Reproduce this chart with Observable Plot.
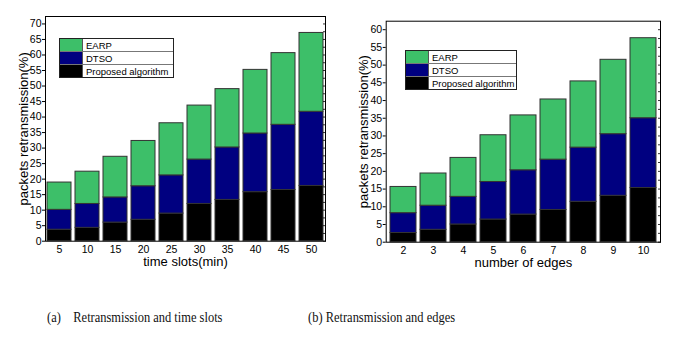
<!DOCTYPE html>
<html><head><meta charset="utf-8">
<script src="https://cdn.jsdelivr.net/npm/d3@7"></script>
<script src="https://cdn.jsdelivr.net/npm/@observablehq/plot@0.6"></script>
<style>
body{margin:0;background:#fff;}
#wrap{position:relative;width:699px;height:341px;font-family:"Liberation Sans",Arial,sans-serif;}
.panel{position:absolute;top:0;}
.legend{position:absolute;border:1px solid #222;background:#fff;font-size:9.5px;color:#000;}
.legend .row{display:flex;align-items:center;height:12px;border-top:1px solid #777;}
.legend .row:first-child{border-top:none;}
.legend .sw{width:22px;height:100%;margin-right:3px;border-right:1px solid #555;flex:none;}
.cap{position:absolute;font-family:"Liberation Serif",serif;font-size:14px;color:#111;white-space:pre;transform:scaleX(0.89);transform-origin:left center;}
</style></head>
<body><div id="wrap"></div>
<script>
// Panel (a): time slots
const slots = [5,10,15,20,25,30,35,40,45,50];
const proposedA = [3.7,4.3,6.0,6.9,8.9,12.0,13.3,15.8,16.5,17.8];
const dtsoA = [6.4,7.7,8.1,10.8,12.3,14.3,16.9,18.9,21.0,23.9];
const earpA = [8.8,10.4,13.1,14.6,16.8,17.4,18.8,20.5,23.1,25.4];
// Panel (b): edges
const edges = [2,3,4,5,6,7,8,9,10];
const proposedB = [2.6,3.5,5.0,6.4,7.8,9.1,11.4,13.1,15.3];
const dtsoB = [5.6,6.8,7.8,10.6,12.5,14.2,15.3,17.4,19.7];
const earpB = [7.4,9.1,11.0,13.2,15.5,17.0,18.7,21.0,22.6];
const series = ["Proposed algorithm","DTSO","EARP"];
const colors = ["#000000","#000080","#3dbf69"];
const yTicksA = d3.range(0,71,5);
const yTicksB = d3.range(0,61,5);

function rows(cats, arrs){
  const out=[];
  cats.forEach((c,i)=>arrs.forEach((a,j)=>out.push({cat:String(c),series:series[j],value:a[i]})));
  return out;
}

function panel(cats, arrs, opts){
  const data = rows(cats, arrs);
  return Plot.plot({
    width: opts.width, height: 290,
    marginLeft: opts.ml, marginRight: opts.mr, marginTop: opts.mt, marginBottom: 290-opts.bottom,
    style:{fontFamily:"Liberation Sans, Arial, sans-serif", fontSize:"10.5px", color:"#000", background:"transparent"},
    x:{domain:cats.map(String), paddingInner:0.15, paddingOuter:0, label:null},
    y:{domain:[0,opts.ymax], label:null},
    color:{domain:series, range:colors},
    marks:[
      Plot.barY(data, Plot.stackY({x:"cat", y:"value", fill:"series", order:series, stroke:"#333", strokeWidth:1})),
      Plot.frame({stroke:"#000", strokeWidth:1}),
      Plot.axisY({ticks:opts.yticks, tickSize:3, tickPadding:1, label:null}),
      Plot.axisY({anchor:"right", ticks:d3.range(0,opts.ymax,2.5), tickSize:-3, tickFormat:()=>"", label:null, strokeOpacity:0.8}),
      Plot.axisX({tickSize:0, tickPadding:4, label:null}),
      Plot.text([opts.xlabel], {frameAnchor:"bottom", dy:25, fontSize:13, text:d=>d}),
      Plot.text([opts.ylabel], {frameAnchor:"left", dx:-22, rotate:-90, textAnchor:"middle", fontSize:13, text:d=>d})
    ]
  });
}

const wrap = document.getElementById("wrap");
function place(el, left){ const d=document.createElement("div"); d.className="panel"; d.style.left=left+"px"; d.appendChild(el); wrap.appendChild(d); }

place(panel(slots,[proposedA,dtsoA,earpA],{width:340, ml:45, mr:15, mt:16, bottom:240.7, ymax:72.4, yticks:yTicksA, xlabel:"time slots(min)", ylabel:"packets retransmission(%)"}), 0);
place(panel(edges,[proposedB,dtsoB,earpB],{width:359, ml:45.7, mr:39, mt:20.7, bottom:241.7, ymax:62.4, yticks:yTicksB, xlabel:"number of edges", ylabel:"packets retransmission(%)"}), 340);

function legend(left, top, w){
  const L=document.createElement("div"); L.className="legend";
  L.style.left=left+"px"; L.style.top=top+"px"; L.style.width=w+"px";
  ["EARP","DTSO","Proposed algorithm"].forEach(name=>{
    const r=document.createElement("div"); r.className="row";
    const s=document.createElement("div"); s.className="sw"; s.style.background=colors[series.indexOf(name)];
    const t=document.createElement("span"); t.textContent=name;
    r.appendChild(s); r.appendChild(t); L.appendChild(r);
  });
  wrap.appendChild(L);
}
legend(59,38,113);
legend(405,50,110);

function cap(text,left,top){ const c=document.createElement("div"); c.className="cap"; c.textContent=text; c.style.left=left+"px"; c.style.top=top+"px"; wrap.appendChild(c); }
cap("(a)    Retransmission and time slots",47,310);
cap("(b) Retransmission and edges",308,310);
</script></body></html>
